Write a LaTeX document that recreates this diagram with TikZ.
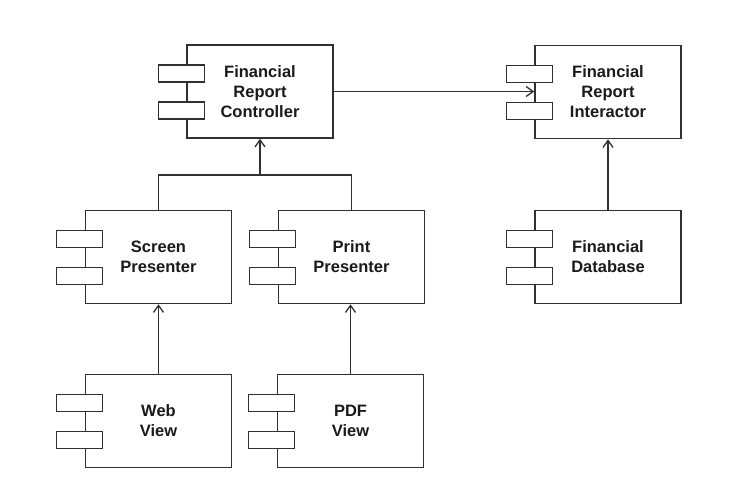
\documentclass[tikz,border=0pt]{standalone}
\usepackage{fontspec}
\setmainfont{Liberation Sans}
\usetikzlibrary{arrows.meta}
\definecolor{linec}{HTML}{303030}
\definecolor{textc}{HTML}{1A1A1A}
\begin{document}
\begin{tikzpicture}[x=1pt,y=-1pt,
  comp/.style={draw=linec, line width=1.6pt, minimum width=146pt, minimum height=93pt,
    align=center, text=textc, font=\bfseries\fontsize{16.5}{20}\selectfont, inner sep=0pt},
  port/.style={draw=linec, fill=white, line width=1.4pt, minimum width=46pt,
    minimum height=17pt, inner sep=0pt},
  conn/.style={draw=linec, line width=1.4pt},
  arr/.style={conn, -{Straight Barb[length=7pt,width=10pt,line width=1.3pt]}}]
\useasboundingbox (0,0) rectangle (752,488);
\fill[white] (0,0) rectangle (752,488);

\node[comp] (ctrl)  at (260,91.5) {Financial\\Report\\Controller};
\node[comp] (inter) at (608,92)   {Financial\\Report\\Interactor};
\node[comp] (screen) at (158.5,257) {Screen\\Presenter};
\node[comp] (print)  at (351.5,257) {Print\\Presenter};
\node[comp] (db)     at (608,257)   {Financial\\Database};
\node[comp] (web)    at (158.5,421)   {Web\\View};
\node[comp] (pdf)    at (350.5,421)   {PDF\\View};

\foreach \b in {ctrl,inter,screen,print,db,web,pdf}{
  \node[port] (\b-p1) at ([xshift=-5pt,yshift=18pt]\b.west) {};
  \node[port] (\b-p2) at ([xshift=-5pt,yshift=-19pt]\b.west) {};
}

\draw[arr] (ctrl.east) -- (ctrl.east -| inter.west);
\coordinate (j) at (ctrl.south |- 0,175);
\draw[conn] (screen.north) |- (j) -| (print.north);
\draw[arr] (j) -- (ctrl.south);
\draw[arr] (web.north) -- (web.north |- screen.south);
\draw[arr] (pdf.north) -- (pdf.north |- print.south);
\draw[arr] (db.north) -- (inter.south);
\end{tikzpicture}
\end{document}
